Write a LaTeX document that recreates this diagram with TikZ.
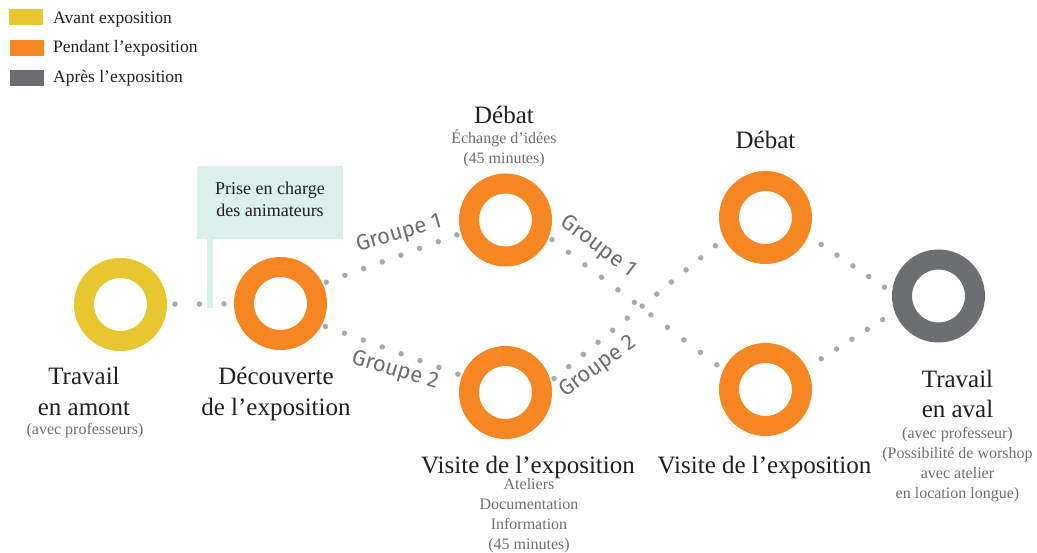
\documentclass[tikz,border=0pt]{standalone}
\usepackage{fontspec}
\setmainfont{Liberation Serif}
\newfontfamily\grpfont{Fira Sans}
\definecolor{ringyellow}{HTML}{E8C62F}
\definecolor{ringorange}{HTML}{F58622}
\definecolor{ringgray}{HTML}{6D6E72}
\definecolor{dotgray}{HTML}{A7A9AC}
\definecolor{boxteal}{HTML}{DAF0EB}
\definecolor{textdark}{HTML}{231F20}
\definecolor{textgray}{HTML}{6D6E71}
\tikzset{
  ring/.style={circle, draw=#1, line width=20pt, minimum size=73pt, inner sep=0pt, outer sep=14pt},
  dots/.style={draw=dotgray, line width=5.5pt, line cap=round, dash pattern=on 0pt off #1},
  title/.style={font=\fontsize{25}{31}\selectfont, text=textdark, align=center, inner sep=0pt, anchor=base},
  sub/.style={font=\fontsize{16}{20}\selectfont, text=textgray, align=center, inner sep=0pt, anchor=base},
  grp/.style={font=\grpfont\fontsize{22}{24}\selectfont, text=textgray, inner sep=0pt},
  legbox/.style={fill=#1, minimum width=34pt, minimum height=16pt, inner sep=0pt, anchor=north west},
  legtext/.style={font=\fontsize{17.5}{20}\selectfont, text=textdark, inner sep=0pt, anchor=base west}
}
\begin{document}
\begin{tikzpicture}[x=1pt,y=-1pt]
    \useasboundingbox (0,0) rectangle (1037,553);
    % legend
    \node [legbox=ringyellow] (legA) at (9,9) {};
    \node [legbox=ringorange] (legP) at (10,40) {};
    \node [legbox=ringgray] (legR) at (10,70) {};
    \node [legtext] (legAt) at (53,24) {Avant exposition};
    \node [legtext] (legPt) at (53,53) {Pendant l’exposition};
    \node [legtext] (legRt) at (53,83) {Après l’exposition};
    % rings
    \node [ring=ringyellow] (amont) at (120.5,304.5) {};
    \node [ring=ringorange] (decouv) at (280.5,303.5) {};
    \node [ring=ringorange] (debat1) at (505.5,220) {};
    \node [ring=ringorange] (visite1) at (505.5,392.5) {};
    \node [ring=ringorange] (debat2) at (765.5,217.5) {};
    \node [ring=ringorange] (visite2) at (765.5,389.5) {};
    \node [ring=ringgray] (aval) at (938.5,296) {};
    % dotted paths
    \path [dots=24.5pt, shorten <=4pt] (amont) edge (decouv);
    \path [dots=19.85pt] (decouv.25) edge (debat1.197);
    \path [dots=20.1pt] (decouv.-27) edge (visite1.159);
    \path [dots=20.7pt, shorten >=3.5pt] (debat1.-23) edge (visite2.154);
    \path [dots=19pt, shorten >=6.4pt] (visite1.16) edge (debat2.208);
    \path [dots=19.1pt, shorten <=11.5pt, shorten >=4.5pt] (debat2.-24) edge (aval.173);
    \path [dots=18.2pt, shorten <=13.2pt, shorten >=10.1pt] (visite2.28) edge (aval.201);
    % group labels
    \node [grp, rotate=16] (g1a) at (399,234) {Groupe 1};
    \node [grp, rotate=-16] (g2a) at (395,371) {Groupe 2};
    \node [grp, rotate=-37] (g1b) at (598,247) {Groupe 1};
    \node [grp, rotate=36] (g2b) at (598,367) {Groupe 2};
    % info box
    \node [fill=boxteal, minimum width=146pt, minimum height=73pt, inner sep=0pt, align=center, text depth=6pt,
           font=\fontsize{18}{22}\selectfont, text=textdark] (prise) at (270,202.5) {Prise en charge\\des animateurs};
    \coordinate (stemfoot) at (210,308);
    \draw [boxteal, line width=6pt] (prise.south -| stemfoot) -- (stemfoot);
    % labels
    \node [title] (tamont) at (84,416) {Travail\\en amont};
    \node [sub] (samont) at (85,435) {(avec professeurs)};
    \node [title] (tdecouv) at (276,416) {Découverte\\de l’exposition};
    \node [title] (tdebat1) at (504,124) {Débat};
    \node [sub] (sdebat1) at (504,164) {Échange d’idées\\(45 minutes)};
    \node [title] (tvisite1) at (528,473) {Visite de l’exposition};
    \node [sub] (svisite1) at (529,549) {Ateliers\\Documentation\\Information\\(45 minutes)};
    \node [title] (tdebat2) at (765.5,149) {Débat};
    \node [title] (tvisite2) at (764.5,473) {Visite de l’exposition};
    \node [title] (taval) at (957.5,418) {Travail\\en aval};
    \node [sub] (saval) at (957.5,498) {(avec professeur)\\(Possibilité de worshop\\avec atelier\\en location longue)};
\end{tikzpicture}
\end{document}
